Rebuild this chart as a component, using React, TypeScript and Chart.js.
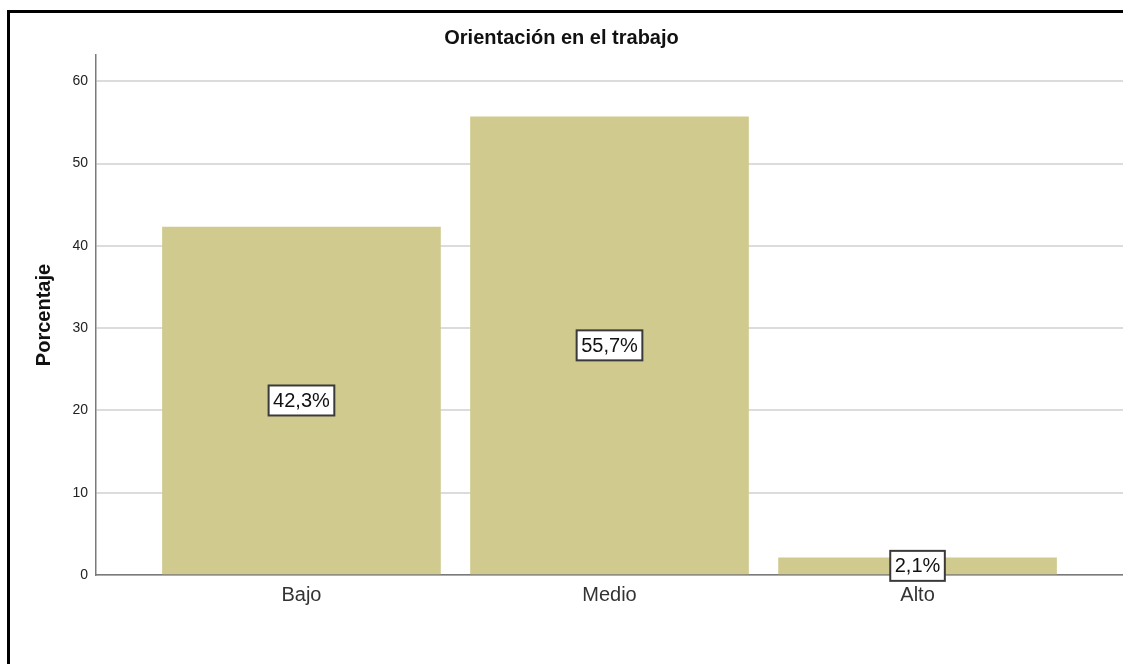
import React, { useEffect, useRef } from "react";
import { Chart, registerables } from "chart.js";

Chart.register(...registerables);

const categories: string[] = ["Bajo", "Medio", "Alto"];
const percentages: number[] = [42.3, 55.7, 2.1];
const yTicks: number[] = [0, 10, 20, 30, 40, 50, 60];
const chartTitle = "Orientación en el trabajo";
const yTitle = "Porcentaje";

const FONT = "'Liberation Sans', Arial, sans-serif";

const framePlugin = {
  id: "frame",
  beforeDraw(chart: any) {
    const { ctx, width, height } = chart;
    ctx.save();
    ctx.fillStyle = "#ffffff";
    ctx.fillRect(0, 0, width, height);
    ctx.fillStyle = "#000000";
    ctx.fillRect(7, 10, 3, height - 10);
    ctx.fillRect(7, 10, width - 7, 3);
    ctx.restore();
  },
};

const labelPlugin = {
  id: "boxLabels",
  afterDatasetsDraw(chart: any) {
    const { ctx } = chart;
    const meta = chart.getDatasetMeta(0);
    ctx.save();
    ctx.font = `20px ${FONT}`;
    ctx.textAlign = "center";
    ctx.textBaseline = "middle";
    meta.data.forEach((bar: any, i: number) => {
      const text = percentages[i].toFixed(1).replace(".", ",") + "%";
      const cx = bar.x;
      const cy = (bar.y + bar.base) / 2;
      const w = ctx.measureText(text).width + 9;
      const h = 30;
      ctx.fillStyle = "#ffffff";
      ctx.fillRect(cx - w / 2, cy - h / 2, w, h);
      ctx.lineWidth = 2;
      ctx.strokeStyle = "#3a3a3a";
      ctx.strokeRect(cx - w / 2, cy - h / 2, w, h);
      ctx.fillStyle = "#111111";
      ctx.fillText(text, cx, cy + 1);
    });
    ctx.restore();
  },
};

export default function App() {
  const canvasRef = useRef<HTMLCanvasElement | null>(null);

  useEffect(() => {
    if (!canvasRef.current) return;
    const chart = new Chart(canvasRef.current, {
      type: "bar",
      data: {
        datasets: [
          {
            label: yTitle,
            data: categories.map((_, i) => ({ x: i, y: percentages[i] })),
            backgroundColor: "#d0ca8e",
            borderWidth: 0,
            barThickness: 278,
          },
        ],
      },
      options: {
        responsive: false,
        animation: false,
        layout: { padding: { left: 0, right: 0, top: 0, bottom: 0 } },
        plugins: {
          legend: { display: false },
          tooltip: { enabled: false },
          title: {
            display: true,
            text: chartTitle,
            color: "#111111",
            font: { family: FONT, size: 20, weight: "bold", lineHeight: 1.2 },
            padding: { top: 26, bottom: 5 },
          },
        },
        scales: {
          x: {
            type: "linear",
            offset: false,
            min: -0.667,
            max: 2.667,
            grid: { display: false, drawTicks: false, offset: false },
            border: { display: true, color: "#7a7a7a", width: 1.5 },
            afterBuildTicks(scale: any) {
              scale.ticks = categories.map((_, i) => ({ value: i }));
            },
            afterFit(scale: any) {
              scale.height = 89;
            },
            ticks: {
              padding: 8,
              color: "#333333",
              font: { family: FONT, size: 20 },
              autoSkip: false,
              maxRotation: 0,
              callback: (v: any) => categories[Math.round(Number(v))] ?? "",
            },
          },
          y: {
            min: 0,
            max: 63.2,
            grid: { color: "#dcdcdc", lineWidth: 2, drawTicks: false },
            border: { display: true, color: "#7a7a7a", width: 1.5 },
            afterBuildTicks(scale: any) {
              scale.ticks = yTicks.map((v) => ({ value: v }));
            },
            afterFit(scale: any) {
              scale.width = 96;
            },
            ticks: {
              padding: 8,
              color: "#222222",
              font: { family: FONT, size: 14 },
            },
            title: {
              display: true,
              text: yTitle,
              color: "#111111",
              font: { family: FONT, size: 20, weight: "bold", lineHeight: 1.2 },
              padding: { top: 32, bottom: 0 },
            },
          },
        },
      },
      plugins: [framePlugin, labelPlugin],
    } as any);
    return () => chart.destroy();
  }, []);

  return (
    <div style={{ position: "absolute", left: 0, top: 0, width: 1123, height: 664 }}>
      <canvas ref={canvasRef} width={1123} height={664} style={{ display: "block" }} />
    </div>
  );
}
